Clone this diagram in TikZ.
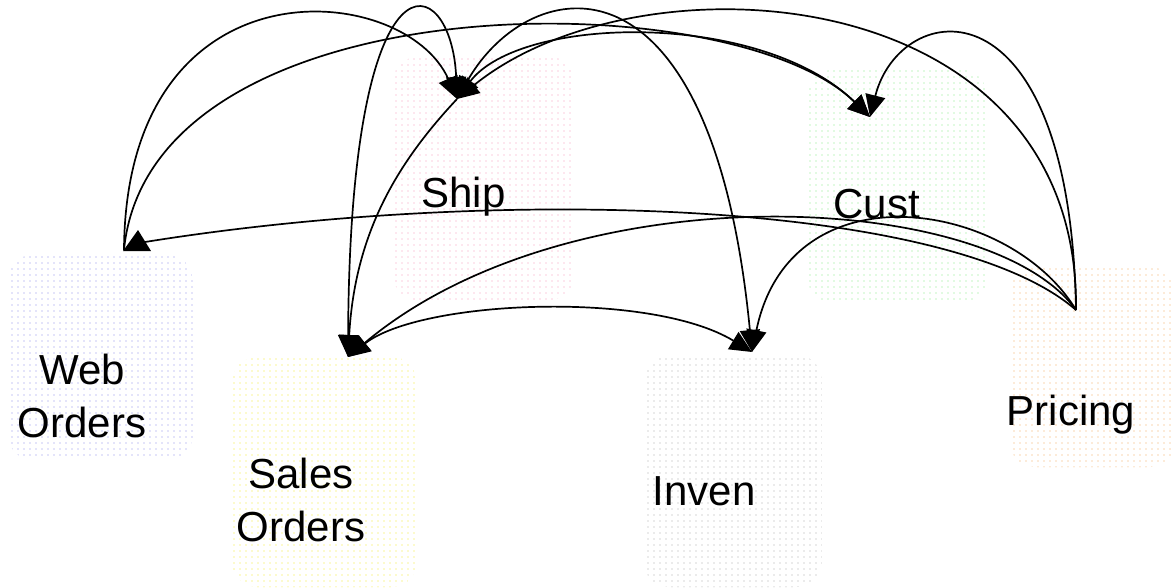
\documentclass[tikz,border=0pt]{standalone}
\usepackage{fontspec}
\setmainfont{Liberation Sans}
\usetikzlibrary{arrows.meta,patterns.meta}
\definecolor{webc}{RGB}{140,140,235}
\definecolor{shipc}{RGB}{245,150,185}
\definecolor{custc}{RGB}{130,235,130}
\definecolor{soc}{RGB}{240,235,40}
\definecolor{invc}{RGB}{170,170,170}
\definecolor{pric}{RGB}{240,170,90}
\begin{document}
\begin{tikzpicture}[x=1pt,y=-1pt,
  conn/.style={line width=1.7pt, black},
  tipend/.style={-{Triangle[length=22pt,width=20pt]}},
  tipboth/.style={{Triangle[length=22pt,width=20pt]}-{Triangle[length=22pt,width=20pt]}},
  lbl/.style={font=\fontsize{42}{53}\selectfont, inner sep=0pt, align=center},
  bg/.style={pattern={Dots[distance=6pt,radius=0.6pt]}, pattern color=#1, rounded corners=25pt}
]
\useasboundingbox (0,0) rectangle (1175,587);
% faint dotted backgrounds
\path[bg=webc] (8,255) rectangle (193,460);
\path[bg=shipc] (393,57) rectangle (575,300);
\path[bg=custc] (808,70) rectangle (987,303);
\path[bg=soc] (232,357) rectangle (417,587);
\path[bg=invc] (644,355) rectangle (822,587);
\path[bg=pric] (1010,267) rectangle (1175,467);
% anchor points
\coordinate (Wa) at (124,250);
\coordinate (Win) at (145,242);
\coordinate (Sa) at (457,99);
\coordinate (Ca) at (870,117);
\coordinate (SOa) at (348,357);
\coordinate (Ia) at (752,352);
\coordinate (Pa) at (1076,310);
% connectors
\draw[conn,tipend] (Wa) .. controls (126,-45) and (405,-20) .. (Sa);
\draw[conn,tipend] (Wa) .. controls (150,-20) and (730,-20) .. (Ca);
\draw[conn] (Pa) .. controls (950,200) and (500,185) .. (Win);
\fill (138,230) -- (123,251) -- (151,251) -- cycle;
\draw[conn,tipend] (Pa) .. controls (990,190) and (570,170) .. (SOa);
\draw[conn,tipboth] (SOa) .. controls (420,300) and (650,290) .. (Ia);
\draw[conn,tipend] (Sa) .. controls (400,160) and (355,230) .. (SOa);
\draw[conn,tipboth] (SOa) .. controls (350,-66) and (452,-30) .. (Sa);
\draw[conn,tipboth] (Sa) .. controls (530,-28) and (712,-62) .. (Ia);
\draw[conn,tipboth] (Sa) .. controls (520,15) and (760,10) .. (Ca);
\draw[conn,tipend] (Pa) .. controls (1080,-22) and (640,-50) .. (Sa);
\draw[conn,tipend] (Pa) .. controls (1070,-28) and (900,-2) .. (Ca);
\draw[conn,tipend] (Pa) .. controls (1010,200) and (790,165) .. (Ia);
% labels
\node[lbl, anchor=base] (web) at (82,437) {Web\\Orders};
\node[lbl, anchor=base] (ship) at (463.5,207) {Ship};
\node[lbl, anchor=base] (cust) at (876.5,218) {Cust};
\node[lbl, anchor=base] (sales) at (301,541) {Sales\\Orders};
\node[lbl, anchor=base] (inven) at (704,505) {Inven};
\node[lbl, anchor=base] (pricing) at (1071,425) {Pricing};
\end{tikzpicture}
\end{document}
